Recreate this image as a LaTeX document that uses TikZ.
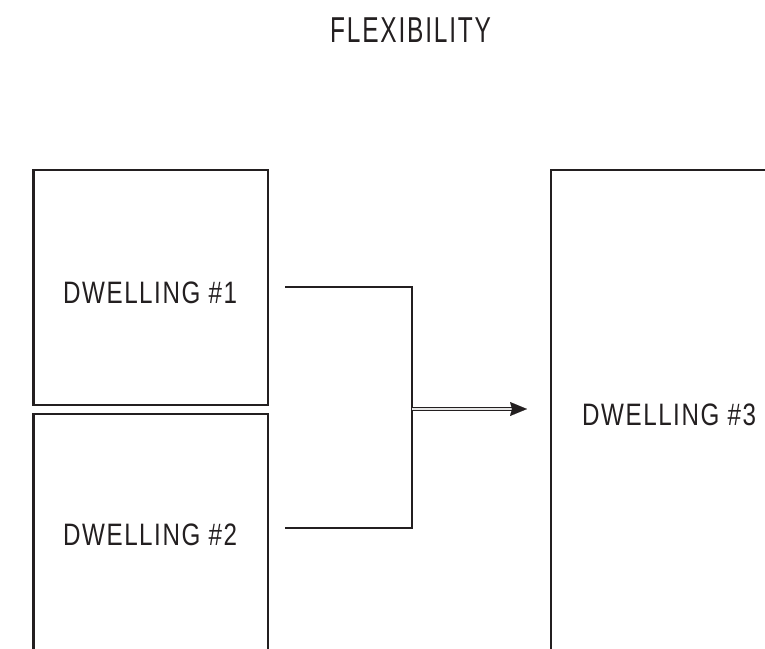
\documentclass[tikz,border=0pt]{standalone}
\usepackage{fontspec}
\setmainfont{Liberation Sans}
\newfontfamily\dwfont[FakeStretch=0.78,LetterSpace=5]{Liberation Sans}
\newfontfamily\ttlfont[FakeStretch=0.68,LetterSpace=5]{Liberation Sans}
\usetikzlibrary{arrows.meta}
\definecolor{ink}{RGB}{35,31,32}
\begin{document}
\begin{tikzpicture}[x=1pt,y=-1pt,
  boxline/.style={draw=ink,line width=2.8pt},
  conn/.style={draw=ink,line width=2pt},
  lbl/.style={anchor=base west,inner sep=0pt,text=ink,font=\dwfont\fontsize{31}{31}\selectfont},
  ttl/.style={anchor=base west,inner sep=0pt,text=ink,font=\ttlfont\fontsize{36}{36}\selectfont}]
\useasboundingbox (0,0) rectangle (765,648);
\clip (0,0) rectangle (765,648);
% boxes
\draw[boxline] (33.5,170) rectangle (268,405);
\draw[boxline] (33.5,414) rectangle (268,660);
\draw[boxline] (551,170) rectangle (780,660);
% texts
\node[ttl] (title) at (330,42) {FLEXIBILITY};
\node[lbl] (d1) at (63,303) {DWELLING \#1};
\node[lbl] (d2) at (63,545) {DWELLING \#2};
\node[lbl] (d3) at (582,425) {DWELLING \#3};
% connectors
\coordinate (a1) at (285,287);
\coordinate (a2) at (285,528);
\coordinate (j) at (412,409);
\coordinate (t0) at (512,409);
\coordinate (t1) at (527,409);
\draw[conn,line join=miter] (a1) -| (j) |- (a2);
\draw[draw=ink,line width=1.8pt,double=white!80!gray,double distance=1.2pt] (j) -- (t0);
\draw[draw=ink,line width=0.1pt,-{Stealth[length=17pt,width=14pt,inset=2pt]}] (t0) -- (t1);
\end{tikzpicture}
\end{document}
